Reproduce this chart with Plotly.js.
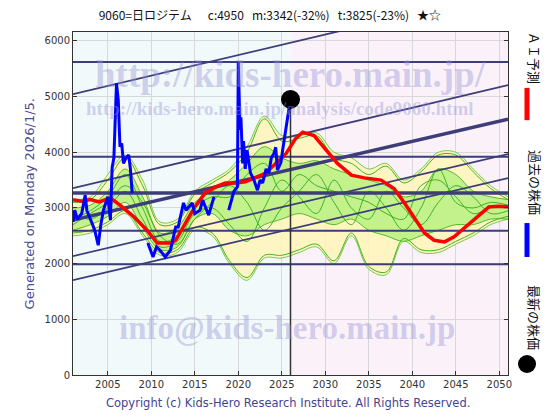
<!DOCTYPE html>
<html><head><meta charset="utf-8">
<script src="https://cdn.plot.ly/plotly-3.0.1.min.js"></script>
<style>body{margin:0;background:#fff}#c{width:560px;height:420px}</style>
</head><body><div id="c"></div>
<script>
// ---- data ----
const envYears = [2001,2003,2005,2007,2009,2011,2013,2015,2017,2019,2021,2023,2025,2027,2029,2031,2033,2035,2037,2039,2041,2043,2045,2047,2049,2051];
const yellowUpper = [3150,3200,3600,3950,3500,2750,2800,3300,3500,3700,4100,4650,4300,4300,4350,4000,3900,3700,3800,3500,3700,4000,4000,3700,3400,3200];
const yellowLower = [2500,2550,2700,2900,2500,2150,2200,2600,2500,2000,1700,2100,2100,2200,2300,2000,2500,1900,1800,2400,2200,2200,2350,2500,2700,2800];
const greenUpper  = [3000,3050,3300,3700,3200,2550,2650,3100,3300,3500,3800,4100,3900,3800,3850,3700,3600,3500,3400,3200,3300,3700,3600,3300,3200,3150];
const greenLower  = [2600,2700,2850,3100,2650,2250,2300,2800,2900,2600,2500,2700,2800,2900,2800,2700,2800,2600,2500,2400,2500,2600,2700,2700,2800,2800];
const sim1 = [3100,3150,3500,3900,3400,2700,2750,3250,3450,3650,4000,4600,4200,4250,4300,3900,3800,3600,3750,3450,3650,3950,3950,3650,3350,3150];
const sim2 = [2550,2600,2750,2950,2550,2200,2250,2650,2550,2050,1750,2150,2150,2250,2350,2050,2550,1950,1850,2450,2250,2250,2400,2550,2750,2850];
const sim3 = [2800,2950,3200,3600,3000,2400,2500,3000,3200,3200,3600,3800,3300,3600,3400,3300,3200,3100,2900,2800,3400,3500,3200,2900,3000,3000];
const sim4 = [2900,2800,3000,3300,2800,2300,2400,2900,3000,2700,2400,3000,3500,3200,2900,3500,3000,2800,3300,3000,2700,3100,3400,3200,2900,2950];
const sim5 = [2700,2900,3100,3400,3100,2500,2350,2800,3100,3400,3100,2600,3000,3300,3600,3100,2700,3300,3000,2600,3000,3700,3100,3000,3100,3050];

const aiYears = [2001,2002,2003,2004,2005.3,2006.4,2008,2009.5,2010.7,2012.2,2012.8,2013.9,2015,2016.2,2017.4,2018.5,2019.7,2020.8,2022,2023.1,2024.3,2025.5,2026.6,2027.4,2028.7,2029.8,2031.4,2033,2034.5,2036.4,2037.9,2039.1,2040.2,2041.4,2042.5,2043.7,2044.8,2046,2047.6,2048.8,2049.9,2051];
const aiValues = [3150,3120,3150,3110,3180,3050,2840,2600,2370,2370,2420,2730,3020,3270,3380,3450,3450,3470,3540,3620,3800,3980,4250,4360,4300,4090,3800,3590,3540,3500,3350,3090,2840,2550,2420,2390,2480,2640,2840,3020,3030,3020];

const pastYears = [2001.0,2001.2,2001.5,2002.0,2002.4,2002.6,2003.0,2003.5,2003.9,2004.2,2004.5,2005.0,2005.3,2005.5,2005.7,2006.0,2006.2,2006.4,2006.6,2006.8,2007.1,2007.4,2007.6,2007.8,2008.5,2008.7,2008.8,2009.0,2009.6,2010.2,2010.6,2011.0,2011.6,2012.2,2012.8,2013.1,2013.7,2014.0,2014.7,2015.0,2015.6,2015.9,2016.6,2017.2,2017.8,2018.9,2019.5,2019.9,2020.0,2020.2,2020.3,2020.5,2020.6,2020.8,2021.0,2021.4,2021.8,2022.2,2022.5,2022.8,2023.2,2023.5,2023.8,2024.1,2024.3,2024.5,2024.9,2025.1,2025.5,2025.8,2026.0];
const pastValues = [2750,2960,2800,2900,3230,2950,2800,2600,2330,2700,2960,3200,2780,3730,3900,5240,4940,4100,4160,3800,3900,3950,3700,3270,null,2000,null,null,2370,2120,2300,2240,2120,2240,2660,2660,3090,2960,3090,2900,2960,3140,2870,3200,null,2960,3300,3380,5620,4400,4630,3800,4200,3700,4040,3630,3500,3320,3500,3450,3700,3630,3900,3980,4090,3680,3820,4040,4450,4760,4750];

const latestYear = 2026;
const latestPrice = 4950;

const hLevels = [5620, 3920, 3268, 2590, 1990];
const hThick  = [false, false, true, false, false];
const diagYears = [2001, 2051];
const diagStart = [5045, 3357, 2783, 2136, 1705];
const diagEnd   = [6890, 5206, 4596, 3967, 3537];
const diagThick = [false, false, true, false, false];

const xTicks = [2005,2010,2015,2020,2025,2030,2035,2040,2045,2050];
const yTicks = [0,1000,2000,3000,4000,5000,6000];

// ---- traces ----
const NAVY = '#3d3d7a';
const traces = [];
traces.push({x: envYears, y: yellowLower, mode:'lines', line:{color:'rgba(90,190,40,0.8)', width:1, shape:'spline'}, hoverinfo:'skip'});
traces.push({x: envYears, y: yellowUpper, mode:'lines', fill:'tonexty', fillcolor:'rgba(255,246,185,0.85)', line:{color:'rgba(90,190,40,0.8)', width:1, shape:'spline'}, hoverinfo:'skip'});
traces.push({x: envYears, y: greenLower, mode:'lines', line:{color:'rgba(70,180,30,0.9)', width:1, shape:'spline'}, hoverinfo:'skip'});
traces.push({x: envYears, y: greenUpper, mode:'lines', fill:'tonexty', fillcolor:'rgba(185,240,130,0.85)', line:{color:'rgba(70,180,30,0.9)', width:1, shape:'spline'}, hoverinfo:'skip'});
[sim1, sim2, sim3, sim4, sim5].forEach(s => traces.push({x: envYears, y: s, mode:'lines', line:{color:'#3cb41e', width:1, shape:'spline'}, hoverinfo:'skip'}));

hLevels.forEach((v,i) => traces.push({x:[2001,2051], y:[v,v], mode:'lines', line:{color:NAVY, width: hThick[i]?3.5:2}, hoverinfo:'skip'}));
diagStart.forEach((v,i) => traces.push({x: diagYears, y:[v, diagEnd[i]], mode:'lines', line:{color:NAVY, width: diagThick[i]?3.5:1.8}, hoverinfo:'skip'}));

traces.push({x:[latestYear, latestYear], y:[0, latestPrice], mode:'lines', line:{color:'#333', width:1.5}, hoverinfo:'skip'});
traces.push({x: aiYears, y: aiValues, mode:'lines', line:{color:'#ff0000', width:3.5}, hoverinfo:'skip'});
traces.push({x: pastYears, y: pastValues, mode:'lines', connectgaps:false, line:{color:'#0000ff', width:3}, hoverinfo:'skip'});
traces.push({x:[latestYear], y:[latestPrice], mode:'markers', marker:{color:'#000', size:19}, hoverinfo:'skip', cliponaxis:false});

const nb = '\u00A0';
const title = '9060=日ロジテム' + nb.repeat(6) + 'c:4950' + nb.repeat(3) + 'm:3342(-32%)' + nb.repeat(3) + 't:3825(-23%)' + nb.repeat(3) + '★☆';

const WM = 'rgba(150,150,215,0.42)';
const layout = {
  width:560, height:420, showlegend:false,
  margin:{l:73, r:52, t:32, b:45},
  paper_bgcolor:'#ffffff', plot_bgcolor:'#ffffff',
  font:{family:'DejaVu Sans, sans-serif', size:10, color:'#333'},
  title:{text:title, x:0.482, xanchor:'center', y:0.962, yanchor:'middle', font:{family:'Noto Sans CJK JP, DejaVu Sans', size:12, color:'#111'}},
  xaxis:{range:[2001,2051], tickvals:xTicks, ticks:'inside', ticklen:4, tickcolor:'#333', showline:true, linecolor:'#333', mirror:true,
         showgrid:true, gridcolor:'#d8d8d8', zeroline:false, tickfont:{size:10, color:'#333'}, fixedrange:true},
  yaxis:{range:[0,6160], tickvals:yTicks, ticks:'inside', ticklen:4, tickcolor:'#333', showline:true, linecolor:'#333', mirror:'ticks',
         showgrid:true, gridcolor:'#d8d8d8', zeroline:false, tickfont:{size:10, color:'#333'}, fixedrange:true},
  shapes:[
    {type:'rect', xref:'x', yref:'paper', x0:2001, x1:latestYear, y0:0, y1:1, fillcolor:'#f2f9fa', line:{width:0}, layer:'below'},
    {type:'rect', xref:'x', yref:'paper', x0:latestYear, x1:2051, y0:0, y1:1, fillcolor:'#fbf2f9', line:{width:0}, layer:'below'},
    {type:'line', xref:'paper', yref:'paper', x0:1.0437, x1:1.0437, y0:0.743, y1:0.837, line:{color:'#ff0000', width:5}},
    {type:'line', xref:'paper', yref:'paper', x0:1.0437, x1:1.0437, y0:0.344, y1:0.443, line:{color:'#0000ff', width:5}},
    {type:'circle', xref:'paper', yref:'paper', x0:1.0437-0.0207, x1:1.0437+0.0207, y0:0.032-0.026, y1:0.032+0.026, fillcolor:'#000', line:{color:'#000', width:0}}
  ],
  annotations:[
    {text:'<b>http://kids-hero.main.jp/</b>', xref:'paper', yref:'paper', x:0.499, y:0.875, xanchor:'center', yanchor:'middle', showarrow:false, font:{family:'Liberation Serif, serif', size:37, color:WM}},
    {text:'<b>http://kids-hero.main.jp/analysis/code9060.html</b>', xref:'paper', yref:'paper', x:0.476, y:0.778, xanchor:'center', yanchor:'middle', showarrow:false, font:{family:'Liberation Serif, serif', size:19, color:WM}},
    {text:'<b>info@kids-hero.main.jp</b>', xref:'paper', yref:'paper', x:0.492, y:0.137, xanchor:'center', yanchor:'middle', showarrow:false, font:{family:'Liberation Serif, serif', size:33, color:WM}},
    {text:'Generated on Monday 2026/1/5.', xref:'paper', yref:'paper', x:-0.099, y:0.5, xanchor:'center', yanchor:'middle', textangle:-90, showarrow:false, font:{family:'DejaVu Sans', size:13, color:'#4a4a96'}},
    {text:'Copyright (c) Kids-Hero Research Institute. All Rights Reserved.', xref:'paper', yref:'paper', x:0.495, y:-0.0816, xanchor:'center', yanchor:'middle', showarrow:false, font:{family:'DejaVu Sans', size:11.5, color:'#45458f'}},
    {text:'ＡＩ予測', xref:'paper', yref:'paper', x:1.062, y:0.924, xanchor:'center', yanchor:'middle', textangle:90, showarrow:false, font:{family:'Noto Sans CJK JP', size:13, color:'#111'}},
    {text:'過去の株価', xref:'paper', yref:'paper', x:1.062, y:0.560, xanchor:'center', yanchor:'middle', textangle:90, showarrow:false, font:{family:'Noto Sans CJK JP', size:13, color:'#111'}},
    {text:'最新の株価', xref:'paper', yref:'paper', x:1.062, y:0.166, xanchor:'center', yanchor:'middle', textangle:90, showarrow:false, font:{family:'Noto Sans CJK JP', size:13, color:'#111'}}
  ]
};
Plotly.newPlot('c', traces, layout, {staticPlot:true, displayModeBar:false});
</script></body></html>
